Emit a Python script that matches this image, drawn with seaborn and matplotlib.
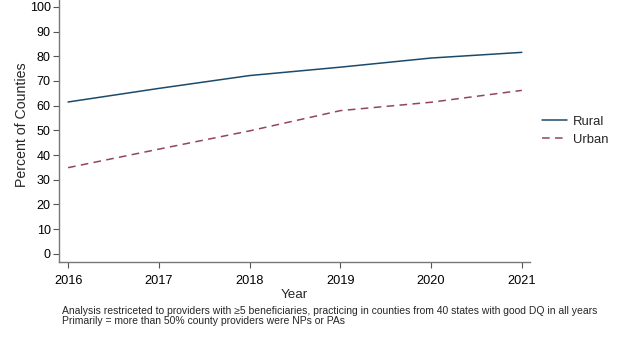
import matplotlib
matplotlib.use("Agg")
import matplotlib.pyplot as plt
import seaborn as sns
import pandas as pd

years = [2016, 2017, 2018, 2019, 2020, 2021]
rural = [61.5, 67.0, 72.2, 75.6, 79.3, 81.6]
urban = [34.9, 42.4, 49.8, 58.0, 61.4, 66.2]
series = ["Rural", "Urban"]
y_ticks = list(range(0, 101, 10))

df = pd.DataFrame({
    "Year": years * 2,
    "Percent": rural + urban,
    "Group": [series[0]] * len(years) + [series[1]] * len(years),
})

sns.set_theme(style="white")
plt.rcParams["font.family"] = ["Liberation Sans", "DejaVu Sans"]

fig = plt.figure(figsize=(6.24, 3.44), dpi=100)
ax = fig.add_axes([59 / 624, 1 - 262 / 344, (530 - 59) / 624, 262 / 344])

palette = {"Rural": "#1c4a6c", "Urban": "#93455a"}
sns.lineplot(data=df, x="Year", y="Percent", hue="Group", style="Group",
             palette=palette, dashes={"Rural": "", "Urban": (5, 3.5)},
             linewidth=1.1, ax=ax, legend=False)

ax.set_xlim(2015.9, 2021.09)
ax.set_ylim(-3.3, 102.8)
ax.set_yticks(y_ticks)
ax.set_xticks(years)
ax.tick_params(axis="both", direction="out", length=4, width=0.8,
               color="#555555", labelcolor="black", pad=2,
               bottom=True, left=True)
ax.tick_params(axis="x", labelsize=9.2, pad=5)
ax.tick_params(axis="y", labelsize=9.0)
for s in ["top", "right"]:
    ax.spines[s].set_visible(False)
for s in ["left", "bottom"]:
    ax.spines[s].set_color("#777777")
    ax.spines[s].set_linewidth(1.0)

ax.set_xlabel("Year", fontsize=9.6, va="center")
ax.xaxis.set_label_coords(0.50, -(295 - 262) / 262)
ax.set_ylabel("Percent of Counties", fontsize=10.2, va="center")
ax.yaxis.set_label_coords(-(59 - 22) / 471, (262 - 125) / 262)

handles = [
    plt.Line2D([], [], color=palette["Rural"], lw=1.1),
    plt.Line2D([], [], color=palette["Urban"], lw=1.1, dashes=(5, 3.5)),
]
fig.legend(handles, series, loc="center left", bbox_to_anchor=(530 / 624, 1 - 130.5 / 344),
           frameon=False, fontsize=9.4, handlelength=1.9, handletextpad=0.5,
           labelspacing=0.45)

fig.text(62 / 624, 1 - 311 / 344,
         "Analysis restriceted to providers with \u22655 beneficiaries, practicing in counties from 40 states with good DQ in all years",
         fontsize=7.45, va="center", ha="left")
fig.text(62 / 624, 1 - 321.5 / 344,
         "Primarily = more than 50% county providers were NPs or PAs",
         fontsize=7.45, va="center", ha="left")

fig.savefig("out.png", dpi=100, facecolor="white")
